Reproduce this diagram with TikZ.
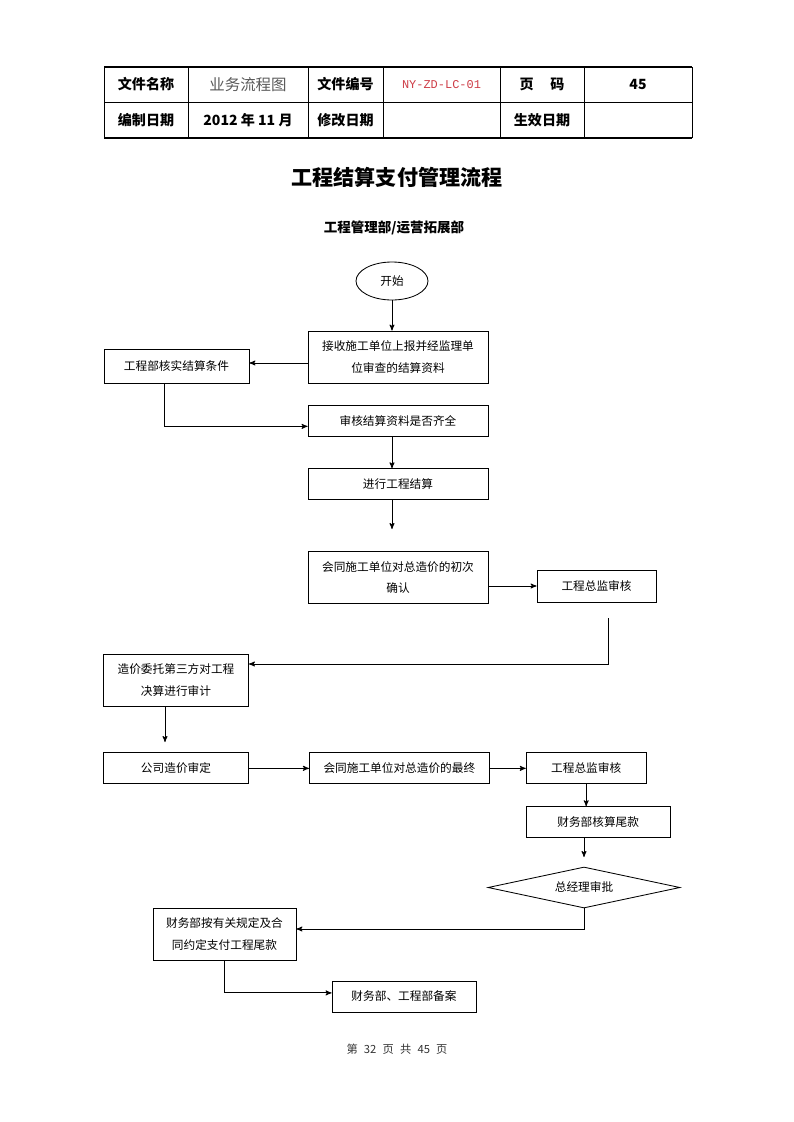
\documentclass[tikz,border=0pt]{standalone}
\usepackage{fontspec}
\setmainfont{Noto Sans CJK SC}
\setmonofont{Liberation Mono}
\usetikzlibrary{positioning,arrows,shapes.geometric}
\newcommand\boxfont{\fontsize{8.3pt}{15pt}\selectfont}
\newcommand\headfont{\fontsize{10pt}{12pt}\selectfont\bfseries}
\definecolor{codered}{RGB}{205,60,70}
\tikzset{
	procbox/.style={draw,line width=0.6pt,align=center,font=\boxfont,inner sep=2pt},
	startnode/.style={draw,ellipse,line width=0.6pt,font=\boxfont,minimum width=1.8cm,minimum height=0.95cm,inner sep=0pt},
	decision/.style={draw,diamond,aspect=4.7,line width=0.6pt,font=\boxfont,minimum width=4.8cm,minimum height=1.025cm,inner sep=0pt},
	hcell/.style={font=\headfont},
	myarrow/.style={->,>=stealth',line width=0.6pt}
}

\begin{document}
\begin{tikzpicture}
	\useasboundingbox (0,0) rectangle (19.825,-28.05);
	% header table
	\draw[line width=1pt] (2.6,-1.675) -- (17.3,-1.675) (2.6,-3.45) -- (17.3,-3.45);
	\draw[line width=0.5pt] (2.6,-2.55) -- (17.3,-2.55);
	\foreach \x in {2.6,4.7,7.7,9.575,12.5,14.6,17.3}
		\draw[line width=0.5pt] (\x,-1.675) -- (\x,-3.45);
	\node[hcell](hname) at (3.65,-2.1125){文件名称};
	\node[font=\fontsize{11pt}{13pt}\selectfont,text=black!65](hnameval) at (6.2,-2.1125){业务流程图};
	\node[hcell](hcode) at (8.6375,-2.1125){文件编号};
	\node[font=\ttfamily\fontsize{8.5pt}{10pt}\selectfont,text=codered](hcodeval) at (11.0375,-2.1125){NY-ZD-LC-01};
	\node[hcell](hpage) at (13.55,-2.1125){页\hspace{1.2em}码};
	\node[hcell](hpageval) at (15.95,-2.1125){45};
	\node[hcell](hdate) at (3.65,-3.0){编制日期};
	\node[hcell](hdateval) at (6.2,-3.0){2012 年 11 月};
	\node[hcell](hmod) at (8.6375,-3.0){修改日期};
	\node[hcell](heff) at (13.55,-3.0){生效日期};

	% titles
	\node[font=\fontsize{15pt}{18pt}\selectfont\bfseries](title) at (9.925,-4.425){工程结算支付管理流程};
	\node[font=\fontsize{9.6pt}{12pt}\selectfont\bfseries](dept) at (9.85,-5.7){工程管理部/运营拓展部};

	% flow
	\node[startnode](start) at (9.8,-7.025){开始};
	\node[procbox,minimum width=4.5cm,minimum height=1.3cm](receive) at (9.95,-8.925){接收施工单位上报并经监理单\\位审查的结算资料};
	\draw[myarrow] (start) -- (start |- receive.north);
	\node[procbox,minimum width=3.625cm,minimum height=0.85cm](checkcond) at (4.4125,-9.15){工程部核实结算条件};
	\draw[myarrow] (receive.west |- 0,-9.075) -- (checkcond.east |- 0,-9.075);
	\node[below = 0.55cm of receive,procbox,minimum width=4.5cm,minimum height=0.775cm](complete){审核结算资料是否齐全};
	\draw[myarrow] ([xshift=-0.3cm]checkcond.south) |- ([yshift=-0.125cm]complete.west);
	\node[below = 0.775cm of complete,procbox,minimum width=4.5cm,minimum height=0.775cm](settle){进行工程结算};
	\draw[myarrow] (complete.south -| start) -- (settle.north -| start);
	\coordinate (settleend) at (9.8,-13.225);
	\draw[myarrow] (settle.south -| settleend) -- (settleend);
	\node[below = 1.275cm of settle,procbox,minimum width=4.5cm,minimum height=1.3cm](firstconf){会同施工单位对总造价的初次\\确认};
	\node[procbox,minimum width=2.975cm,minimum height=0.8cm](chief1) at (14.9125,-14.65){工程总监审核};
	\draw[myarrow] (firstconf.east |- chief1) -- (chief1.west);
	\node[procbox,minimum width=3.625cm,minimum height=1.3cm](audit) at (4.4,-17.0){造价委托第三方对工程\\决算进行审计};
	\coordinate (chiefout) at (15.2,-15.45);
	\draw[myarrow] (chiefout) |- ([yshift=0.4cm]audit.east);
	\coordinate (auditend) at (4.125,-18.55);
	\draw[myarrow] (audit.south -| auditend) -- (auditend);
	\node[below = 1.15cm of audit,procbox,minimum width=3.625cm,minimum height=0.775cm](approve){公司造价审定};
	\node[right = 1.5cm of approve,procbox,minimum width=4.5cm,minimum height=0.775cm](finalconf){会同施工单位对总造价的最终};
	\draw[myarrow] (approve) -- (finalconf);
	\node[right = 0.9cm of finalconf,procbox,minimum width=3cm,minimum height=0.775cm](chief2){工程总监审核};
	\draw[myarrow] (finalconf) -- (chief2);
	\node[below = 0.55cm of chief2,xshift=0.3cm,procbox,minimum width=3.6cm,minimum height=0.775cm](balance){财务部核算尾款};
	\draw[myarrow] (chief2.south) -- (chief2.south |- balance.north);
	\coordinate (balanceend) at (14.6,-21.425);
	\draw[myarrow] (balance.south -| balanceend) -- (balanceend);
	\node[decision](gm) at (14.6,-22.1875){总经理审批};
	\node[procbox,minimum width=3.575cm,minimum height=1.3cm](pay) at (5.6125,-23.35){财务部按有关规定及合\\同约定支付工程尾款};
	\draw[myarrow] (gm.south) |- ([yshift=0.125cm]pay.east);
	\node[procbox,minimum width=3.6cm,minimum height=0.775cm](archive) at (10.1,-24.9125){财务部、工程部备案};
	\draw[myarrow] (pay.south) |- ([yshift=0.09cm]archive.west);

	% footer
	\node[font=\fontsize{8pt}{9pt}\selectfont,text=black!80](footer) at (9.925,-26.225){第\hspace{0.55em}32\hspace{0.55em}页\hspace{0.55em}共\hspace{0.55em}45\hspace{0.55em}页};
\end{tikzpicture}
\end{document}
